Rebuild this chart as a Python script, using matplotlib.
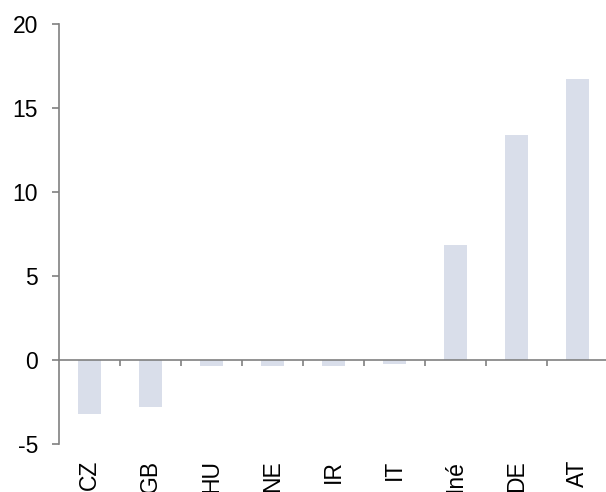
import matplotlib
matplotlib.use("Agg")
import matplotlib.pyplot as plt
import matplotlib.transforms as mtransforms

# Data
countries = ["CZ", "GB", "HU", "NE", "IR", "IT", "Iné", "DE", "AT"]
values = [-3.2, -2.8, -0.36, -0.36, -0.36, -0.26, 6.85, 13.4, 16.7]
y_ticks = [-5, 0, 5, 10, 15, 20]

plt.rcParams["font.family"] = ["Liberation Sans", "DejaVu Sans"]

fig = plt.figure(figsize=(6.06, 4.92), dpi=100)
ax = fig.add_axes([59 / 606, 48 / 492, 549 / 606, 420 / 492])

x = list(range(len(countries)))
ax.bar(x, values, width=0.39, color="#D9DEEA", zorder=1)

ax.set_xlim(-0.5, 8.5)
ax.set_ylim(-5, 20)

# Spines: left axis and a zero line with boundary ticks
for side in ["top", "right"]:
    ax.spines[side].set_visible(False)
ax.spines["left"].set_color("#808080")
ax.spines["left"].set_linewidth(1.2)
ax.spines["bottom"].set_position(("data", 0))
ax.spines["bottom"].set_color("#808080")
ax.spines["bottom"].set_linewidth(1.2)
ax.spines["bottom"].set_zorder(3)

ax.set_yticks(y_ticks)
ax.set_yticklabels([str(t) for t in y_ticks], fontsize=16.5)
ax.tick_params(axis="y", direction="out", length=5, width=1.2, color="#808080", pad=10)

boundaries = [i + 0.5 for i in range(len(countries) - 1)]
ax.set_xticks(boundaries)
ax.set_xticklabels([])
ax.tick_params(axis="x", direction="out", length=4.5, width=1.2, color="#808080")

# Category labels under the plot, rotated
trans = mtransforms.blended_transform_factory(ax.transData, ax.transAxes)
for i in range(len(countries)):
    ax.text(x[i], -0.038, countries[i], transform=trans, rotation=90,
            ha="center", va="top", fontsize=16.5)

fig.savefig("out.png", dpi=100)
